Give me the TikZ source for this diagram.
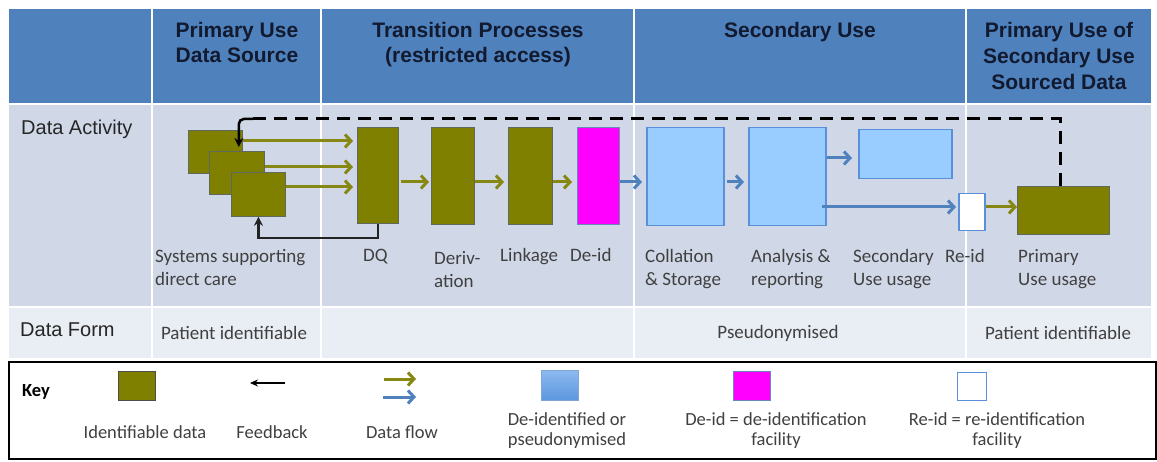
\documentclass[tikz,border=0pt]{standalone}
\usepackage{fontspec}
\setmainfont{Carlito}
\newfontfamily\hdrfont{Liberation Sans}
\usetikzlibrary{arrows.meta,calc}
\definecolor{hblue}{RGB}{79,129,189}
\definecolor{hnavy}{RGB}{18,26,48}
\definecolor{actbg}{RGB}{208,216,232}
\definecolor{formbg}{RGB}{233,237,244}
\definecolor{olivec}{RGB}{128,128,0}
\definecolor{olivebd}{RGB}{95,105,95}
\definecolor{oarrowc}{RGB}{135,135,20}
\definecolor{barrowc}{RGB}{79,129,189}
\definecolor{lblue}{RGB}{153,204,255}
\definecolor{bluebd}{RGB}{90,143,219}
\definecolor{lblc}{RGB}{64,64,64}
\definecolor{fbc}{RGB}{35,35,35}
\definecolor{mag}{RGB}{255,0,255}
\begin{document}
\begin{tikzpicture}[x=1pt,y=-1pt,
  cellhead/.style={fill=hblue, draw=white, line width=2.5pt},
  cellact/.style={fill=actbg, draw=white, line width=2.5pt},
  cellform/.style={fill=formbg, draw=white, line width=2.5pt},
  hdrtext/.style={font=\hdrfont\bfseries\fontsize{21}{25}\selectfont, text=hnavy, align=center, anchor=north, inner sep=0pt},
  rowtext/.style={font=\hdrfont\fontsize{20}{24}\selectfont, text=black!85, anchor=west, inner sep=0pt},
  olivebox/.style={fill=olivec, draw=olivebd, line width=0.8pt, inner sep=0pt, anchor=north west},
  bluebox/.style={fill=lblue, draw=bluebd, line width=1.5pt, inner sep=0pt, anchor=north west},
  oarrow/.style={draw=oarrowc, line width=3pt, -{Straight Barb[length=6pt,width=13pt]}},
  barrow/.style={draw=barrowc, line width=3pt, -{Straight Barb[length=6pt,width=13pt]}},
  fbk/.style={draw=fbc, line width=2.5pt, -{Stealth[length=9pt,width=9pt]}},
  lbl/.style={font=\fontsize{19}{23.5}\selectfont, text=lblc, align=left, anchor=north west, inner sep=0pt},
  formtext/.style={font=\fontsize{19}{22}\selectfont, text=lblc, inner sep=0pt},
  keytext/.style={font=\fontsize{18.5}{20}\selectfont, text=lblc, align=center, inner sep=0pt}
]
\useasboundingbox (0,0) rectangle (1157,462);
\fill[white] (0,0) rectangle (1157,462);
% grid
\foreach \a/\b in {8/152,152/321,321/634,634/966,966/1152}{
  \path[cellhead] (\a,8) rectangle (\b,104);
  \path[cellact] (\a,104) rectangle (\b,307);
  \path[cellform] (\a,307) rectangle (\b,359);
}
% headers
\node[hdrtext] (h1) at (237,22) {Primary Use\\Data Source};
\node[hdrtext] (h2) at (478,22) {Transition Processes\\(restricted access)};
\node[hdrtext] (h3) at (800,22) {Secondary Use};
\node[hdrtext, font=\hdrfont\bfseries\fontsize{21}{26}\selectfont] (h4) at (1059,22) {Primary Use of\\Secondary Use\\Sourced Data};
% row labels
\node[rowtext] (r1) at (21,129) {Data Activity};
\node[rowtext] (r2) at (20,330) {Data Form};
% boxes
\node[olivebox, minimum width=54pt, minimum height=43pt] (sq1) at (188,130) {};
\node[olivebox, minimum width=55pt, minimum height=43pt] (sq2) at (209,151) {};
\node[olivebox, minimum width=54pt, minimum height=44pt] (sq3) at (231,172) {};
\node[olivebox, minimum width=41pt, minimum height=96pt] (dq) at (357,127) {};
\node[olivebox, minimum width=43pt, minimum height=97pt] (der) at (431,127) {};
\node[olivebox, minimum width=44pt, minimum height=97pt] (lnk) at (508,127) {};
\node[olivebox, fill=mag, draw=bluebd!60!gray, minimum width=42pt, minimum height=97pt] (deid) at (577,127) {};
\node[bluebox, minimum width=77pt, minimum height=98pt] (col) at (646,127) {};
\node[bluebox, minimum width=77pt, minimum height=98pt] (ana) at (748,127) {};
\node[bluebox, minimum width=93pt, minimum height=49pt] (sec) at (858,129) {};
\node[bluebox, fill=white, minimum width=26pt, minimum height=37pt] (reid) at (958,193) {};
\node[olivebox, minimum width=92pt, minimum height=48pt] (prim) at (1017,186) {};
% flow coordinates
\coordinate (s1o) at ([yshift=-11pt]sq1.north east);
\coordinate (s2o) at ([yshift=-16pt]sq2.north east);
\coordinate (s3o) at ([yshift=-15pt]sq3.north east);
\coordinate (fy) at (0,182);
\coordinate (fs) at (0,158);
\coordinate (fr) at (0,207);
\coordinate (anr) at (822,207);
% olive flows
\draw[oarrow, shorten >=4pt] (s1o) -- (s1o -| dq.west);
\draw[oarrow, shorten >=4pt] (s2o) -- (s2o -| dq.west);
\draw[oarrow, shorten >=4pt] (s3o) -- (s3o -| dq.west);
\draw[oarrow, shorten <=2pt, shorten >=2pt] (dq.east |- fy) -- (der.west |- fy);
\draw[oarrow, shorten >=4pt] (der.east |- fy) -- (lnk.west |- fy);
\draw[oarrow, shorten >=5pt] (lnk.east |- fy) -- (deid.west |- fy);
\draw[barrow, shorten >=4pt] (deid.east |- fy) -- (col.west |- fy);
\draw[barrow, shorten <=2pt, shorten >=4pt] (col.east |- fy) -- (ana.west |- fy);
\draw[barrow, shorten >=6pt] (ana.east |- fs) -- (sec.west |- fs);
\draw[barrow, shorten >=2pt] (anr) -- (reid.west |- fr);
\draw[oarrow] (reid.east |- fr) -- (prim.west |- fr);
% feedback DQ -> systems
\draw[fbk] (dq.south) |- ([yshift=-21pt]sq3.south) -- (sq3.south);
% dashed feedback from primary use usage
\coordinate (dc) at ([xshift=-4pt,yshift=11pt]sq1.north east);
\coordinate (fin) at ([xshift=-4pt,yshift=-17pt]sq1.north east);
\coordinate (dtop) at ([xshift=-3pt]prim.north);
\draw[draw=black, line width=3pt, dash pattern=on 13pt off 8pt] (dtop) |- ([xshift=14pt]dc);
\draw[fbk, draw=black, rounded corners=5pt] ([xshift=14pt]dc) -- (dc) -- (fin);
% activity labels
\node[lbl] (l1) at (155,249) {Systems supporting\\direct care};
\node[lbl] (l2) at (363,249) {DQ};
\node[lbl] (l3) at (434,251) {Deriv-\\ation};
\node[lbl] (l4) at (500,248) {Linkage};
\node[lbl] (l5) at (570,248) {De-id};
\node[lbl] (l6) at (645,249) {Collation\\\&~Storage};
\node[lbl] (l7) at (751,249) {Analysis \&\\reporting};
\node[lbl] (l8) at (853,249) {Secondary\\Use usage};
\node[lbl] (l9) at (945,249) {Re-id};
\node[lbl] (l10) at (1018,249) {Primary\\Use usage};
% data form
\node[formtext] (f1) at (234,333) {Patient identifiable};
\node[formtext] (f2) at (778,333) {Pseudonymised};
\node[formtext] (f3) at (1058,333) {Patient identifiable};
% key
\node[draw=black, line width=2pt, fill=white, minimum width=1147pt, minimum height=97pt, anchor=north west, inner sep=0pt] (keybox) at (8,361) {};
\node[font=\bfseries\fontsize{18.5}{20}\selectfont, anchor=west, inner sep=0pt] (kk) at (22,392) {Key};
\node[olivebox, draw=black!70, minimum width=37pt, minimum height=29pt] (ki) at (118,371) {};
\node[keytext] (kit) at (145,432) {Identifiable data};
\coordinate (kfa) at (285,383);
\coordinate (kfb) at (250,383);
\draw[fbk, draw=black, line width=2pt, -{Stealth[length=8pt,width=7pt]}] (kfa) -- (kfb);
\node[keytext] (kft) at (272,432) {Feedback};
\coordinate (koa) at (384,379);
\coordinate (kob) at (416,379);
\coordinate (kba) at (383,397);
\coordinate (kbb) at (416,397);
\draw[oarrow] (koa) -- (kob);
\draw[barrow] (kba) -- (kbb);
\node[keytext] (kdt) at (402,432) {Data flow};
\node[anchor=north west, inner sep=0pt, minimum width=37pt, minimum height=30pt, top color={rgb,255:red,140;green,185;blue,240}, bottom color={rgb,255:red,92;green,150;blue,222}, draw={rgb,255:red,130;green,165;blue,210}, line width=0.8pt] (kb) at (541,370) {};
\node[keytext] (kbt) at (567,431) {De-identified or\\pseudonymised};
\node[anchor=north west, inner sep=0pt, minimum width=37pt, minimum height=29pt, fill=mag, draw=bluebd!60!gray, line width=0.8pt] (km) at (733,371) {};
\node[keytext] (kmt) at (776,431) {De-id = de-identification\\facility};
\node[anchor=north west, inner sep=0pt, minimum width=29pt, minimum height=28pt, fill=white, draw=bluebd, line width=1.2pt] (kw) at (957,372) {};
\node[keytext] (kwt) at (997,431) {Re-id = re-identification\\facility};
\end{tikzpicture}
\end{document}
